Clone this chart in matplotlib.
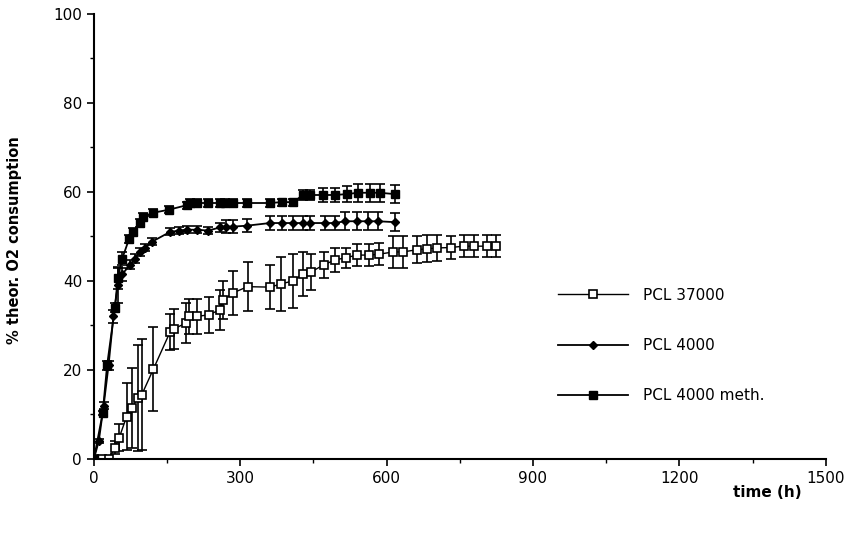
#!/usr/bin/env python3
# -*- coding: utf-8 -*-

'''
O2 consumption of PCL samples vs time
'''

import numpy as np
from matplotlib import pyplot as plt
from matplotlib.ticker import MultipleLocator

# PCL 37000 (open squares)
t_37000 = [0, 17, 30, 43, 52, 67, 78, 90, 98, 122, 156, 164, 188, 195, 211, 236,
           258, 265, 285, 315, 361, 383, 408, 429, 445, 471, 494, 516, 539, 564,
           584, 614, 633, 662, 682, 704, 731, 758, 779, 805, 824]
v_37000 = [0, 0, 0, 2.5, 4.8, 9.5, 11.5, 13.7, 14.4, 20.2, 28.5, 29.2, 30.5, 32,
           32, 32.4, 33.5, 35.7, 37.3, 38.7, 38.6, 39.3, 40, 41.6, 42, 43.6, 44.7,
           45.2, 45.8, 45.8, 46, 46.5, 46.5, 47, 47.2, 47.4, 47.5, 47.8, 47.8,
           47.8, 47.8]
e_37000 = [0, 0, 0, 1.5, 3, 7.5, 9, 12, 12.5, 9.5, 4, 4.5, 4.5, 4, 4, 4, 4.5,
           4.3, 5, 5.5, 5, 6, 6, 5, 4, 3, 2.7, 2.3, 2.5, 2.5, 2.5, 3.5, 3.5, 3,
           3, 3, 2.5, 2.5, 2.5, 2.5, 2.5]

# PCL 4000 (small filled diamonds)
t_4000 = [0, 10, 20, 30, 40, 49, 58, 74, 84, 94, 105, 119, 156, 175, 190, 211,
          234, 258, 270, 285, 313, 361, 385, 408, 429, 442, 473, 494, 514, 539,
          562, 582, 617]
v_4000 = [0, 4, 12, 21, 32, 39, 41.5, 43.6, 45, 46.5, 47.5, 48.8, 51, 51.3,
          51.5, 51.5, 51.3, 52, 52.2, 52.2, 52.4, 53, 53, 53, 53, 53, 53, 53,
          53.4, 53.4, 53.4, 53.4, 53.2]
e_4000 = [0, 0.5, 0.8, 1, 1.5, 4, 1.5, 1, 1, 0.8, 0.8, 0.8, 0.8, 0.8, 0.8, 0.8,
          0.8, 1, 1.5, 1.5, 1.5, 1.5, 1.5, 1.5, 1.5, 1.5, 1.5, 1.5, 2, 2, 2, 2, 2]

# PCL 4000 meth. (filled squares)
t_meth = [0, 18, 27, 43, 49, 58, 72, 80, 94, 101, 121, 154, 190, 197, 211, 234,
          258, 268, 285, 313, 361, 385, 408, 429, 442, 469, 494, 518, 541, 566,
          586, 617]
v_meth = [0, 10.3, 21, 34, 40.6, 45, 49.4, 51, 53, 54.4, 55.3, 56, 57, 57.5,
          57.5, 57.5, 57.5, 57.5, 57.5, 57.5, 57.5, 57.7, 57.7, 59.3, 59.3, 59.3,
          59.3, 59.5, 59.8, 59.8, 59.8, 59.5]
e_meth = [0, 0.5, 1, 1, 2.5, 1.5, 0.8, 0.8, 0.8, 0.8, 0.8, 0.8, 0.8, 0.8, 0.8,
          0.8, 0.8, 0.8, 0.8, 0.8, 0.8, 0.8, 0.8, 1.2, 1.2, 1.5, 1.5, 1.8, 2, 2,
          2, 2]

x_ticks = [0, 300, 600, 900, 1200, 1500]
y_ticks = [0, 20, 40, 60, 80, 100]

fig = plt.figure(figsize=(8.46, 5.33), dpi=100)
ax = fig.add_axes([0.111, 0.139, 0.865, 0.835])

c1 = ax.errorbar(t_37000, v_37000, yerr=e_37000, color='black', lw=1.0,
                 marker='s', markersize=6, markerfacecolor='white',
                 markeredgecolor='black', markeredgewidth=1.2,
                 capsize=3.5, elinewidth=1.2, capthick=1.2, zorder=2)
c2 = ax.errorbar(t_4000, v_4000, yerr=e_4000, color='black', lw=1.3,
                 marker='D', markersize=4, markerfacecolor='black',
                 capsize=3.5, elinewidth=1.2, capthick=1.2, zorder=3)
c3 = ax.errorbar(t_meth, v_meth, yerr=e_meth, color='black', lw=1.3,
                 marker='s', markersize=5.5, markerfacecolor='black',
                 capsize=3.5, elinewidth=1.2, capthick=1.2, zorder=4)

ax.set_xlim(0, 1500)
ax.set_ylim(0, 100)
ax.set_xticks(x_ticks)
ax.set_yticks(y_ticks)
ax.xaxis.set_minor_locator(MultipleLocator(150))
ax.yaxis.set_minor_locator(MultipleLocator(10))
ax.tick_params(which='major', direction='out', length=5, width=1.2, labelsize=11)
ax.tick_params(which='minor', direction='out', length=3, width=1)
for s in ['top', 'right']:
    ax.spines[s].set_visible(False)
for s in ['left', 'bottom']:
    ax.spines[s].set_linewidth(1.5)

fig.text(0.907, 0.068, 'time (h)', fontsize=11, fontweight='bold', ha='center')
fig.text(0.017, 0.55, '% theor. O2 consumption', fontsize=10.5, fontweight='bold',
         rotation=90, ha='center', va='center')

# legend only line + marker, no error bars
handles = [c1[0], c2[0], c3[0]]
labels = ['PCL 37000', 'PCL 4000', 'PCL 4000 meth.']
ax.legend(handles, labels, loc='center left', bbox_to_anchor=(0.615, 0.255),
          frameon=False, fontsize=11, handlelength=4.6, labelspacing=2.3,
          handletextpad=1.0)

fig.savefig('out.png', dpi=100)
